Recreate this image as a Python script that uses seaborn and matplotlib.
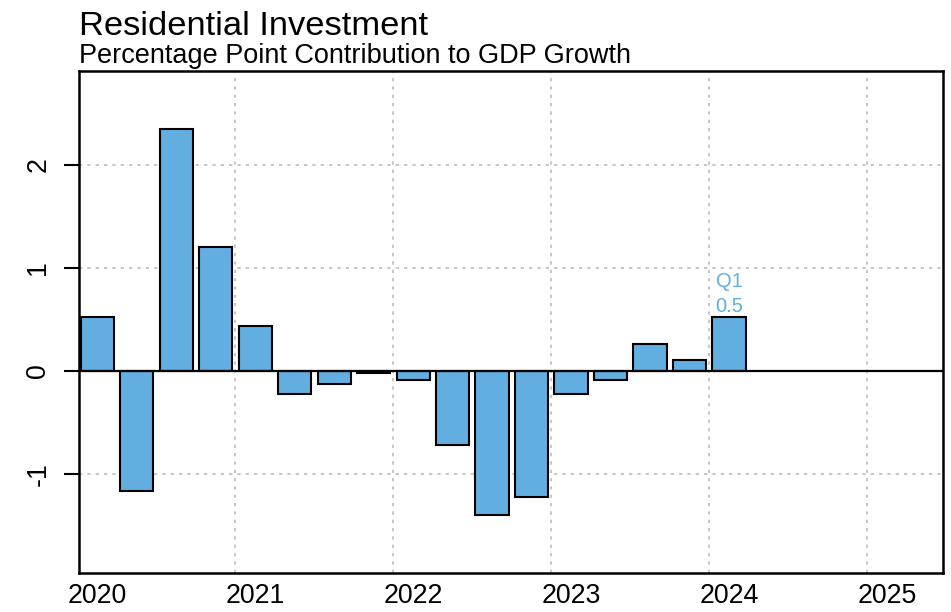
import matplotlib
matplotlib.use("Agg")
import matplotlib.pyplot as plt
import seaborn as sns
import pandas as pd

# quarterly contribution of residential investment to GDP growth (pp)
quarters = ["2020Q1", "2020Q2", "2020Q3", "2020Q4",
            "2021Q1", "2021Q2", "2021Q3", "2021Q4",
            "2022Q1", "2022Q2", "2022Q3", "2022Q4",
            "2023Q1", "2023Q2", "2023Q3", "2023Q4",
            "2024Q1"]
contrib = [0.52, -1.16, 2.35, 1.20,
           0.44, -0.22, -0.13, -0.02,
           -0.09, -0.72, -1.40, -1.22,
           -0.22, -0.09, 0.26, 0.11,
           0.52]
year_ticks = [2020, 2021, 2022, 2023, 2024, 2025]
y_ticks = [-1, 0, 1, 2]

BLUE = "#62AEE0"

# quarter -> decimal year at mid-quarter
xpos = [int(q[:4]) + (int(q[-1]) - 1) / 4 + 0.125 for q in quarters]
df = pd.DataFrame({"x": xpos, "value": contrib})

sns.set_style("white")
plt.rcParams["font.family"] = ["Liberation Sans", "DejaVu Sans"]
plt.rcParams["text.color"] = "black"
plt.rcParams["xtick.color"] = "black"
plt.rcParams["ytick.color"] = "black"
plt.rcParams["axes.labelcolor"] = "black"

fig = plt.figure(figsize=(9.51, 6.12), dpi=100)
ax = fig.add_axes([0.0831, 0.0637, 0.9085, 0.8203])

sns.barplot(data=df, x="x", y="value", native_scale=True, width=0.84,
            color=BLUE, saturation=1, edgecolor="black", linewidth=1.5,
            ax=ax, zorder=3)

# dotted grid
for yr in year_ticks:
    ax.axvline(yr, color="#BEBEBE", linestyle=(0, (2, 3)), linewidth=1.2, zorder=1)
for yv in y_ticks:
    if yv != 0:
        ax.axhline(yv, color="#BEBEBE", linestyle=(0, (2, 3)), linewidth=1.2, zorder=1)
ax.axhline(0, color="black", linewidth=1.6, zorder=4)

ax.set_xlim(2020.01, 2025.48)
ax.set_ylim(-1.96, 2.91)

ax.set_xticks([y + 0.125 for y in year_ticks])
ax.set_xticklabels([str(y) for y in year_ticks], fontsize=19.3)
ax.tick_params(axis="x", length=0, pad=7)
ax.set_yticks(y_ticks)
ax.set_yticklabels([str(v) for v in y_ticks], fontsize=19.3, rotation=90, va="center")
ax.tick_params(axis="y", length=11, width=1.5, pad=9, left=True)
ax.set_xlabel("")
ax.set_ylabel("")

for s in ax.spines.values():
    s.set_visible(True)
    s.set_color("black")
    s.set_linewidth(1.8)

# latest value label
last_x = xpos[-1] - 0.085
ax.annotate(f"{contrib[-1]:.1f}", (last_x, contrib[-1]), xytext=(0, 5),
            textcoords="offset pixels", ha="left", va="baseline",
            fontsize=14.5, color=BLUE, zorder=5)
ax.annotate("Q" + quarters[-1][-1], (last_x, contrib[-1]), xytext=(0, 30),
            textcoords="offset pixels", ha="left", va="baseline",
            fontsize=14.5, color=BLUE, zorder=5)

fig.text(0.0831, 1 - 35 / 612, "Residential Investment", fontsize=24.8,
         ha="left", va="baseline")
fig.text(0.0831, 1 - 63 / 612, "Percentage Point Contribution to GDP Growth",
         fontsize=19.5, ha="left", va="baseline")

fig.savefig("out.png", dpi=100)
